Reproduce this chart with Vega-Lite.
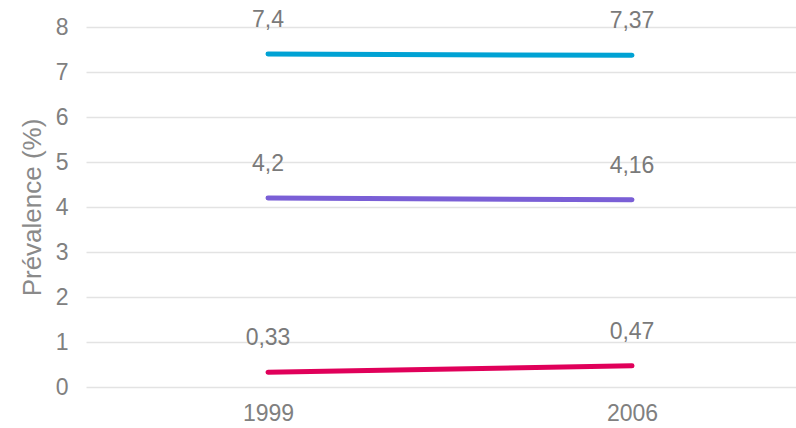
{
  "$schema": "https://vega.github.io/schema/vega-lite/v6.json",
  "autosize": "none",
  "width": 710,
  "height": 360,
  "padding": {"left": 86, "top": 27, "right": 0, "bottom": 41},
  "background": "white",
  "config": {
    "view": {"stroke": null},
    "font": "Liberation Sans"
  },
  "data": {
    "values": [
      {"serie": "A", "annee": 1999, "valeur": 7.4, "etiquette": "7,4"},
      {"serie": "A", "annee": 2006, "valeur": 7.37, "etiquette": "7,37"},
      {"serie": "B", "annee": 1999, "valeur": 4.2, "etiquette": "4,2"},
      {"serie": "B", "annee": 2006, "valeur": 4.16, "etiquette": "4,16"},
      {"serie": "C", "annee": 1999, "valeur": 0.33, "etiquette": "0,33"},
      {"serie": "C", "annee": 2006, "valeur": 0.47, "etiquette": "0,47"}
    ]
  },
  "encoding": {
    "x": {
      "field": "annee",
      "type": "quantitative",
      "scale": {"domain": [1995.5, 2009.1538], "nice": false, "zero": false},
      "axis": {
        "values": [1999, 2006],
        "format": "d",
        "title": null,
        "grid": false,
        "domain": false,
        "ticks": false,
        "labelPadding": 15,
        "labelFontSize": 23,
        "labelColor": "#808080",
        "labelFont": "Liberation Sans"
      }
    },
    "y": {
      "field": "valeur",
      "type": "quantitative",
      "scale": {"domain": [0, 8], "nice": false},
      "axis": {
        "values": [0, 1, 2, 3, 4, 5, 6, 7, 8],
        "title": "Prévalence (%)",
        "titleFontSize": 26,
        "titleFontWeight": "normal",
        "titleColor": "#8a8a8a",
        "titleFont": "Liberation Sans",
        "titleX": -54,
        "titleY": 180,
        "titleAngle": -90,
        "titleAlign": "center",
        "titleBaseline": "middle",
        "grid": true,
        "gridColor": "#e3e3e3",
        "gridWidth": 1.5,
        "domain": false,
        "ticks": false,
        "labelPadding": 18,
        "labelFontSize": 23,
        "labelColor": "#808080",
        "labelFont": "Liberation Sans"
      }
    }
  },
  "layer": [
    {
      "mark": {"type": "line", "strokeWidth": 5, "strokeCap": "round"},
      "encoding": {
        "color": {
          "field": "serie",
          "type": "nominal",
          "scale": {"domain": ["A", "B", "C"], "range": ["#00a2d4", "#7a5fd6", "#e0005a"]},
          "legend": null
        }
      }
    },
    {
      "mark": {"type": "text", "dy": -34, "fontSize": 23, "color": "#7a7a7a", "baseline": "middle", "font": "Liberation Sans"},
      "encoding": {
        "text": {"field": "etiquette", "type": "nominal"}
      }
    }
  ]
}
